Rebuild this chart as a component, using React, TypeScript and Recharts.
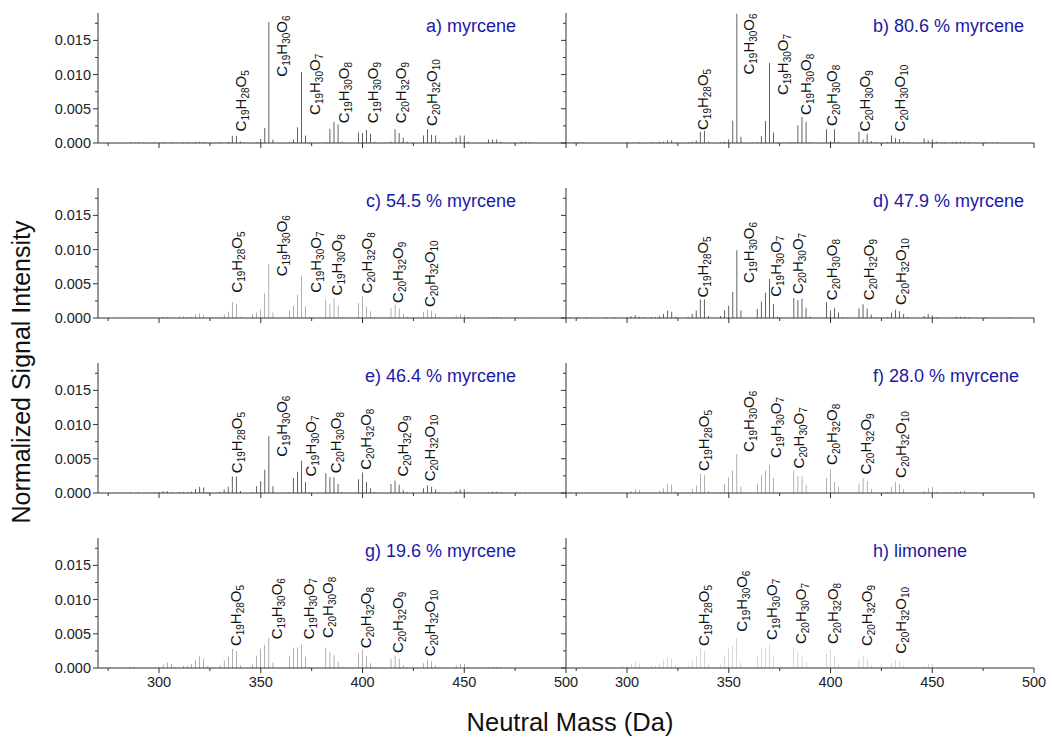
import { Bar, ComposedChart, Scatter, XAxis, YAxis } from "recharts"

// [neutral mass (Da), normalized intensity]
const peaksA: [number, number][] = [
  [286, 0.0001], [290, 0.0001], [298, 0.0001], [302, 0.0001], [306, 0.0001], [312, 0.00012], [314, 0.00012],
  [318, 0.00015], [320, 0.00018], [322, 0.00015], [330, 0.0001], [334, 0.0002],
  [336, 0.00107], [338, 0.00107], [340, 0.0002],
  [348, 0.0001], [350, 0.0006], [352, 0.0022], [354, 0.0177], [356, 0.0005],
  [364, 0.0001], [366, 0.0005], [368, 0.0023], [370, 0.0104], [372, 0.0011], [374, 0.0001],
  [382, 0.0001], [384, 0.0021], [386, 0.0031], [388, 0.0027], [390, 0.0002],
  [398, 0.00155], [400, 0.00146], [402, 0.0019], [404, 0.00136], [406, 0.0002],
  [414, 0.0002], [416, 0.002], [418, 0.00146], [420, 0.0008], [422, 0.0002],
  [430, 0.0011], [432, 0.002], [434, 0.0012], [436, 0.0011], [438, 0.0002],
  [444, 0.0002], [446, 0.0008], [448, 0.0011], [450, 0.0011], [452, 0.0002],
  [462, 0.0005], [464, 0.0005], [466, 0.0005], [468, 0.0002],
  [478, 0.0002], [480, 0.0002], [482, 0.00015],
]

const peaksB: [number, number][] = [
  [274, 0.0001], [276, 0.0001], [278, 0.0001], [300, 0.0001], [306, 0.0001], [312, 0.0001], [316, 0.0002],
  [318, 0.0002], [320, 0.0004], [322, 0.0004], [324, 0.0001], [330, 0.0001], [332, 0.0002],
  [334, 0.0004], [336, 0.00165], [338, 0.0018], [340, 0.0002],
  [346, 0.0001], [348, 0.0002], [350, 0.0005], [352, 0.00325], [354, 0.0189], [356, 0.0009],
  [364, 0.0001], [366, 0.001], [368, 0.0032], [370, 0.0117], [372, 0.00155], [374, 0.0001],
  [380, 0.0001], [382, 0.0001], [384, 0.0026], [386, 0.0038], [388, 0.0031], [390, 0.0001],
  [398, 0.002], [400, 0.00025], [402, 0.002], [404, 0.0002],
  [414, 0.00165], [416, 0.0005], [418, 0.00136], [420, 0.0003], [422, 0.0001],
  [428, 0.0001], [430, 0.0011], [432, 0.0007], [434, 0.0006], [436, 0.0002], [438, 0.0001],
  [446, 0.0007], [448, 0.0004], [450, 0.0005], [452, 0.0002], [456, 0.0001], [460, 0.0001],
  [462, 0.0002], [464, 0.0002], [466, 0.0002], [468, 0.0001], [476, 0.0001], [482, 0.0001],
]

const peaksC: [number, number][] = [
  [286, 0.0001], [290, 0.0001], [294, 0.0001], [298, 0.0001], [302, 0.0002], [304, 0.0002], [306, 0.0001],
  [310, 0.00025], [312, 0.00025], [314, 0.0001], [316, 0.0002], [318, 0.0005], [320, 0.0007], [322, 0.0004],
  [326, 0.0001], [330, 0.0002], [332, 0.0005], [334, 0.0009],
  [336, 0.0023], [338, 0.0021], [340, 0.0002],
  [346, 0.0006], [348, 0.0008], [350, 0.0012], [352, 0.0036], [354, 0.0079], [356, 0.0008],
  [364, 0.0011], [366, 0.0018], [368, 0.0034], [370, 0.0062], [372, 0.0017], [374, 0.0002],
  [382, 0.0027], [384, 0.0021], [386, 0.0029], [388, 0.0018], [390, 0.0002],
  [398, 0.0022], [400, 0.0032], [402, 0.0016], [404, 0.001], [406, 0.0002],
  [414, 0.0015], [416, 0.002], [418, 0.0014], [420, 0.0006], [422, 0.0002],
  [430, 0.0009], [432, 0.0012], [434, 0.0011], [436, 0.0007], [438, 0.0001],
  [444, 0.0001], [446, 0.0004], [448, 0.0006], [450, 0.0004], [452, 0.0001],
  [462, 0.0001], [464, 0.0002], [466, 0.0002], [468, 0.0001], [476, 0.0001], [482, 0.0001],
]

const peaksD: [number, number][] = [
  [272, 0.0001], [276, 0.0001], [280, 0.0001], [290, 0.0001], [294, 0.0001], [300, 0.0001],
  [302, 0.00025], [304, 0.0004], [306, 0.0002], [308, 0.0001], [312, 0.0001], [314, 0.0001],
  [316, 0.00025], [318, 0.0006], [320, 0.0011], [322, 0.0009], [324, 0.0002],
  [330, 0.0002], [332, 0.0006], [334, 0.0011], [336, 0.0027], [338, 0.0027], [340, 0.0003],
  [346, 0.0003], [348, 0.0011], [350, 0.0018], [352, 0.0038], [354, 0.0099], [356, 0.0011],
  [364, 0.0013], [366, 0.0024], [368, 0.0037], [370, 0.0057], [372, 0.002], [374, 0.0002],
  [382, 0.0029], [384, 0.0026], [386, 0.0028], [388, 0.0015], [390, 0.0002],
  [398, 0.0023], [400, 0.0011], [402, 0.0015], [404, 0.0008], [406, 0.0001],
  [414, 0.0014], [416, 0.002], [418, 0.0014], [420, 0.0005], [422, 0.0001],
  [428, 0.0001], [430, 0.0008], [432, 0.0012], [434, 0.001], [436, 0.0006], [438, 0.0001],
  [446, 0.0003], [448, 0.0006], [450, 0.0004], [452, 0.0001],
  [462, 0.0002], [464, 0.0002], [466, 0.0002], [468, 0.0001], [476, 0.0001], [488, 0.0001],
]

const peaksE: [number, number][] = [
  [286, 0.0001], [290, 0.0001], [298, 0.0001], [300, 0.0001], [302, 0.00025], [304, 0.0003], [306, 0.0001],
  [310, 0.0001], [312, 0.0001], [314, 0.0001], [316, 0.0002], [318, 0.0006], [320, 0.0009], [322, 0.0008], [324, 0.0001],
  [330, 0.0002], [332, 0.0005], [334, 0.0009], [336, 0.0024], [338, 0.0024], [340, 0.0003],
  [346, 0.0001], [348, 0.001], [350, 0.0017], [352, 0.0034], [354, 0.0083], [356, 0.001],
  [364, 0.0001], [366, 0.0022], [368, 0.0031], [370, 0.0047], [372, 0.0016], [374, 0.0001],
  [382, 0.0029], [384, 0.0023], [386, 0.0023], [388, 0.0013], [390, 0.0001],
  [398, 0.002], [400, 0.003], [402, 0.0016], [404, 0.0007], [406, 0.0001],
  [414, 0.0013], [416, 0.0018], [418, 0.0012], [420, 0.0004], [422, 0.0001],
  [430, 0.0007], [432, 0.0011], [434, 0.0009], [436, 0.0005], [438, 0.0001],
  [446, 0.0003], [448, 0.0005], [450, 0.0005], [452, 0.0001],
  [462, 0.0001], [464, 0.0002], [466, 0.0002], [468, 0.0001], [476, 0.0001], [480, 0.0001],
]

const peaksF: [number, number][] = [
  [272, 0.0001], [276, 0.0001], [280, 0.0001], [290, 0.0001], [294, 0.0001], [300, 0.0001],
  [302, 0.0003], [304, 0.0006], [306, 0.0004], [308, 0.0001], [312, 0.0001], [314, 0.0001],
  [316, 0.0003], [318, 0.0007], [320, 0.0013], [322, 0.0012], [324, 0.0002],
  [330, 0.0002], [332, 0.0006], [334, 0.0011], [336, 0.0028], [338, 0.0026], [340, 0.0003],
  [346, 0.0001], [348, 0.0013], [350, 0.0023], [352, 0.0033], [354, 0.0057], [356, 0.0009],
  [364, 0.0014], [366, 0.0026], [368, 0.0033], [370, 0.0041], [372, 0.0022], [374, 0.0001],
  [382, 0.0033], [384, 0.0025], [386, 0.0024], [388, 0.0012], [390, 0.0001],
  [398, 0.0022], [400, 0.0034], [402, 0.0016], [404, 0.0009], [406, 0.0001],
  [414, 0.0014], [416, 0.0022], [418, 0.0017], [420, 0.0006], [422, 0.0001],
  [428, 0.0001], [430, 0.0009], [432, 0.0016], [434, 0.0013], [436, 0.0006], [438, 0.0001],
  [446, 0.0003], [448, 0.0007], [450, 0.0009], [452, 0.0002],
  [462, 0.0002], [464, 0.0003], [466, 0.0004], [468, 0.0001], [476, 0.0001], [484, 0.0001],
]

const peaksG: [number, number][] = [
  [276, 0.0001], [280, 0.0001], [284, 0.0001], [286, 0.0002], [288, 0.0002], [290, 0.0001], [296, 0.0001],
  [298, 0.0001], [300, 0.0002], [302, 0.0005], [304, 0.0008], [306, 0.0006], [308, 0.0001],
  [312, 0.0003], [314, 0.0003], [316, 0.0006], [318, 0.0012], [320, 0.0017], [322, 0.0014], [324, 0.0003],
  [330, 0.0004], [332, 0.0011], [334, 0.0017], [336, 0.0028], [338, 0.0025], [340, 0.0004],
  [346, 0.0005], [348, 0.0018], [350, 0.0028], [352, 0.0034], [354, 0.0044], [356, 0.0008],
  [364, 0.0017], [366, 0.003], [368, 0.003], [370, 0.0034], [372, 0.0016], [374, 0.0001],
  [382, 0.003], [384, 0.0023], [386, 0.0019], [388, 0.0009], [390, 0.0001],
  [398, 0.0021], [400, 0.0027], [402, 0.0017], [404, 0.0007], [406, 0.0001],
  [414, 0.0014], [416, 0.0018], [418, 0.0013], [420, 0.0004], [422, 0.0001],
  [430, 0.0007], [432, 0.0012], [434, 0.001], [436, 0.0004], [438, 0.0001],
  [446, 0.0004], [448, 0.0006], [450, 0.0006], [452, 0.0001],
  [462, 0.0001], [464, 0.0002], [466, 0.0002], [468, 0.0001], [480, 0.0001],
]

const peaksH: [number, number][] = [
  [272, 0.0001], [276, 0.0001], [280, 0.0001], [284, 0.0002], [286, 0.0002], [288, 0.0002], [292, 0.0001],
  [296, 0.0001], [298, 0.0003], [300, 0.0004], [302, 0.0006], [304, 0.0009], [306, 0.0007], [308, 0.0001],
  [312, 0.0003], [314, 0.0003], [316, 0.0006], [318, 0.0012], [320, 0.0016], [322, 0.0014], [324, 0.0004],
  [328, 0.0001], [330, 0.0004], [332, 0.0011], [334, 0.0017], [336, 0.0029], [338, 0.0025], [340, 0.0005],
  [346, 0.0005], [348, 0.0018], [350, 0.0028], [352, 0.0033], [354, 0.0044], [356, 0.0008],
  [364, 0.0017], [366, 0.003], [368, 0.003], [370, 0.0034], [372, 0.0016], [374, 0.0001],
  [382, 0.003], [384, 0.0024], [386, 0.0019], [388, 0.0009], [390, 0.0001],
  [398, 0.0021], [400, 0.0027], [402, 0.0017], [404, 0.0007], [406, 0.0001],
  [414, 0.0014], [416, 0.0018], [418, 0.0013], [420, 0.0004], [422, 0.0001],
  [430, 0.0007], [432, 0.0012], [434, 0.001], [436, 0.0004], [438, 0.0001],
  [446, 0.0003], [448, 0.0006], [450, 0.0006], [452, 0.0001],
  [462, 0.0001], [464, 0.0002], [466, 0.0002], [468, 0.0001], [476, 0.0001], [482, 0.0001],
]

// formula labels: [mass at text baseline, intensity at text start, formula]
const labelsA: [number, number, string][] = [
  [342.8, 0.0017, "C19H28O5"], [362.9, 0.0097, "C19H30O6"], [379.2, 0.0041, "C19H30O7"],
  [393.5, 0.0029, "C19H30O8"], [407.5, 0.0029, "C19H30O9"], [421.5, 0.0029, "C20H32O9"],
  [436.4, 0.0025, "C20H32O10"],
]
const labelsB: [number, number, string][] = [
  [339.6, 0.0019, "C19H28O5"], [362.5, 0.01, "C19H30O6"], [378.9, 0.007, "C19H30O7"],
  [390.6, 0.0041, "C19H30O8"], [403.1, 0.0025, "C20H30O8"], [419.3, 0.0017, "C20H30O9"],
  [436.5, 0.0017, "C20H30O10"],
]
const labelsC: [number, number, string][] = [
  [340.7, 0.0037, "C19H28O5"], [362.9, 0.0061, "C19H30O6"], [379.5, 0.0037, "C19H30O7"],
  [390, 0.0033, "C19H30O8"], [404.9, 0.0036, "C20H32O8"], [419.8, 0.0022, "C20H32O9"],
  [435.8, 0.0016, "C20H32O10"],
]
const labelsD: [number, number, string][] = [
  [339.6, 0.003, "C19H28O5"], [362.5, 0.0051, "C19H30O6"], [375.9, 0.0031, "C19H30O7"],
  [386.4, 0.0035, "C20H30O7"], [403.1, 0.0026, "C20H30O8"], [421.5, 0.0026, "C20H32O9"],
  [437.3, 0.0019, "C20H32O10"],
]
const labelsE: [number, number, string][] = [
  [340.7, 0.0029, "C19H28O5"], [362.9, 0.0053, "C19H30O6"], [376.9, 0.0024, "C19H30O7"],
  [389.2, 0.0029, "C20H30O8"], [404, 0.0034, "C20H32O8"], [422.4, 0.0024, "C20H32O9"],
  [435.5, 0.0017, "C20H32O10"],
]
const labelsF: [number, number, string][] = [
  [340.4, 0.0032, "C19H28O5"], [362.2, 0.006, "C19H30O6"], [375.5, 0.0051, "C19H30O7"],
  [386.9, 0.0036, "C20H30O7"], [403.1, 0.0041, "C20H32O8"], [419.8, 0.0027, "C20H32O9"],
  [437.3, 0.0022, "C20H32O10"],
]
const labelsG: [number, number, string][] = [
  [340.2, 0.0032, "C19H28O5"], [360.3, 0.0042, "C19H30O6"], [376, 0.0042, "C19H30O7"],
  [385.7, 0.0044, "C20H30O8"], [404, 0.0029, "C20H32O8"], [419.8, 0.0022, "C20H32O9"],
  [435.5, 0.0017, "C20H32O10"],
]
const labelsH: [number, number, string][] = [
  [340.4, 0.0032, "C19H28O5"], [358.8, 0.0053, "C19H30O6"], [373.8, 0.0041, "C19H30O7"],
  [388, 0.0035, "C20H30O7"], [403.9, 0.0035, "C20H32O8"], [420.6, 0.0032, "C20H32O9"],
  [437.3, 0.0021, "C20H32O10"],
]

const titles = [
  "a) myrcene", "b) 80.6 % myrcene", "c) 54.5 % myrcene", "d) 47.9 % myrcene",
  "e) 46.4 % myrcene", "f) 28.0 % myrcene", "g) 19.6 % myrcene", "h) limonene",
]

const xTicks = [275, 300, 325, 350, 375, 400, 425, 450, 475, 500]
const yTicks = [0, 0.0025, 0.005, 0.0075, 0.01, 0.0125, 0.015, 0.0175]

const panels = [
  { peaks: peaksA, labels: labelsA }, { peaks: peaksB, labels: labelsB },
  { peaks: peaksC, labels: labelsC }, { peaks: peaksD, labels: labelsD },
  { peaks: peaksE, labels: labelsE }, { peaks: peaksF, labels: labelsF },
  { peaks: peaksG, labels: labelsG }, { peaks: peaksH, labels: labelsH },
]

const FONT = "'Liberation Sans', Arial, sans-serif"
const AXIS = "#333"
const ROW_H = 175

function FormulaLabel(props: any) {
  const { cx, cy, payload } = props
  if (cx == null || cy == null) return null
  const parts: string[] = payload.f.match(/[A-Z][a-z]?\d*/g) || []
  return (
    <text x={cx} y={cy} transform={`rotate(-90 ${cx} ${cy})`} fontSize={15} fontFamily={FONT} fill="#111">
      {parts.map((p, i) => {
        const m = p.match(/([A-Z][a-z]?)(\d*)/)!
        return [
          <tspan key={"e" + i} dy={i === 0 ? 0 : -3}>{m[1]}</tspan>,
          m[2] ? <tspan key={"n" + i} fontSize={10} dy={3}>{m[2]}</tspan> : null,
        ]
      })}
    </text>
  )
}

function Panel({ idx }: { idx: number }) {
  const { peaks, labels } = panels[idx]
  const left = idx % 2 === 0
  const row = Math.floor(idx / 2)
  const bottom = row === 3
  const data = peaks.map(([m, v]) => ({ m, v }))
  const labelData = labels.map(([m, v, f]) => ({ m, v, f }))

  const XTick = (p: any) => {
    const val = p.payload.value
    const major = val % 50 === 0
    return (
      <g>
        <line x1={p.x} x2={p.x} y1={p.y} y2={p.y + (major ? 5 : 3)} stroke={AXIS} />
        {bottom && major && (
          <text x={p.x} y={p.y + 19} textAnchor="middle" fontSize={14.5} fontFamily={FONT} fill="#222">
            {val}
          </text>
        )}
      </g>
    )
  }

  const YTick = (p: any) => {
    const major = p.index % 2 === 0
    return (
      <g>
        <line x1={p.x - (major ? 5 : 3)} x2={p.x} y1={p.y} y2={p.y} stroke={AXIS} />
        {left && major && (
          <text x={p.x - 7} y={p.y + 5} textAnchor="end" fontSize={14.5} fontFamily={FONT} fill="#222">
            {p.payload.value.toFixed(3)}
          </text>
        )}
      </g>
    )
  }

  // left panels: axis at x=98, right panels: axis at x=566; both 468 px wide
  const yWidth = left ? 98 : 40
  const rightMargin = 20
  return (
    <div style={{ position: "absolute", left: left ? 0 : 526, top: row * ROW_H }}>
      <ComposedChart
        width={yWidth + 468 + rightMargin}
        height={ROW_H}
        data={data}
        margin={{ top: 13, right: rightMargin, bottom: 0, left: 0 }}
      >
        <XAxis
          type="number"
          dataKey="m"
          domain={[270, 500]}
          allowDataOverflow
          ticks={xTicks}
          interval={0}
          tickLine={false}
          tickSize={0}
          tickMargin={0}
          tick={XTick}
          height={32}
          axisLine={{ stroke: AXIS }}
        />
        <YAxis
          type="number"
          domain={[0, 0.019]}
          allowDataOverflow
          ticks={yTicks}
          interval={0}
          tickLine={false}
          tickSize={0}
          tickMargin={0}
          tick={YTick}
          width={yWidth}
          axisLine={{ stroke: AXIS }}
        />
        <Bar dataKey="v" barSize={1} fill="#2a2a2a" isAnimationActive={false} />
        <Scatter data={labelData} dataKey="v" shape={FormulaLabel} isAnimationActive={false} />
      </ComposedChart>
    </div>
  )
}

export default function App() {
  return (
    <div style={{ position: "absolute", left: 0, top: 0, width: 1052, height: 738, background: "#fff" }}>
      {panels.map((_, i) => (
        <Panel key={i} idx={i} />
      ))}
      <svg width={1052} height={738} style={{ position: "absolute", left: 0, top: 0, pointerEvents: "none" }}>
        {titles.map((t, i) => {
          const left = i % 2 === 0
          const row = Math.floor(i / 2)
          return (
            <text
              key={t}
              x={left ? 516 : 873}
              y={row * ROW_H + 32}
              textAnchor={left ? "end" : "start"}
              fontSize={18}
              fontFamily={FONT}
              fill="#1a1aa6"
            >
              {t}
            </text>
          )
        })}
        <text
          x={30}
          y={372}
          transform="rotate(-90 30 372)"
          textAnchor="middle"
          fontSize={25}
          fontFamily={FONT}
          fill="#111"
        >
          Normalized Signal Intensity
        </text>
        <text x={570} y={731} textAnchor="middle" fontSize={25.5} fontFamily={FONT} fill="#111">
          Neutral Mass (Da)
        </text>
      </svg>
    </div>
  )
}
